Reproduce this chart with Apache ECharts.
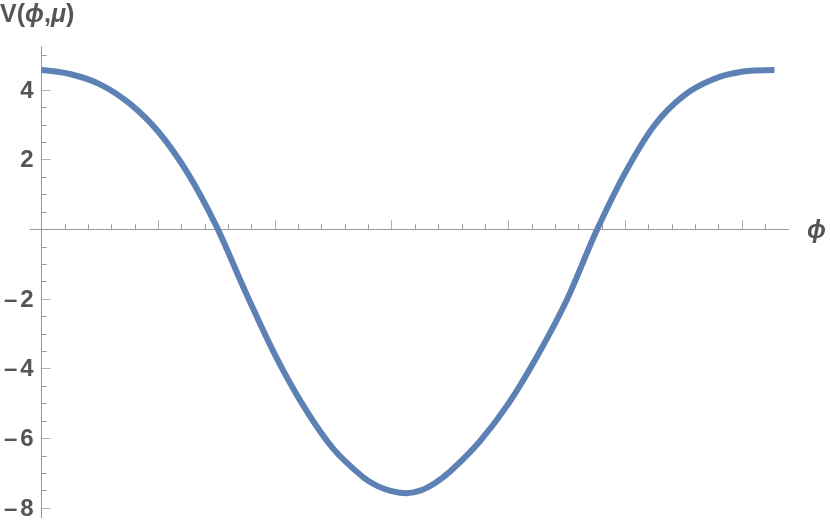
<!DOCTYPE html>
<html>
<head>
<meta charset="utf-8">
<script src="https://cdn.jsdelivr.net/npm/echarts@6/dist/echarts.min.js"></script>
<style>
html,body{margin:0;padding:0;background:#fff;}
#c{width:830px;height:528px;}
</style>
</head>
<body>
<div id="c"></div>
<script>
// Data
var phiValues = [0, 0.25, 0.5, 0.75, 1.0, 1.25, 1.5, 1.75, 2.0, 2.25, 2.5, 2.75, 2.875, 3.0, 3.125, 3.25, 3.375, 3.5, 3.75, 4.0, 4.25, 4.5, 4.75, 5.0, 5.25, 5.5, 5.75, 6.0, 6.28];
var vValues = [4.57, 4.45, 4.16, 3.62, 2.80, 1.62, 0.07, -1.82, -3.60, -5.10, -6.30, -7.10, -7.36, -7.51, -7.57, -7.49, -7.27, -6.95, -6.10, -5.00, -3.62, -2.03, -0.08, 1.62, 2.98, 3.83, 4.30, 4.52, 4.57];
var xMajorTicks = [1, 2, 3, 4, 5, 6];
var xMinorTicks = [0.2, 0.4, 0.6, 0.8, 1.2, 1.4, 1.6, 1.8, 2.2, 2.4, 2.6, 2.8, 3.2, 3.4, 3.6, 3.8, 4.2, 4.4, 4.6, 4.8, 5.2, 5.4, 5.6, 5.8, 6.2];
var yMajorTicks = [-8, -6, -4, -2, 2, 4];
var yMinorTicks = [-7.5, -7, -6.5, -5.5, -5, -4.5, -3.5, -3, -2.5, -1.5, -1, -0.5, 0.5, 1, 1.5, 2.5, 3, 3.5, 4.5, 5];
var xLabel = 'ϕ';
var yLabelParts = ['V(', 'ϕ', ',', 'μ', ')'];

var seriesData = phiValues.map(function (p, i) { return [p, vValues[i]]; });

var FONT = '"Liberation Sans", Arial, "DejaVu Sans", sans-serif';
var labelColor = '#555555';
var axisColor = '#999999';

var chart = echarts.init(document.getElementById('c'), null, {renderer: 'canvas'});

var option = {
  animation: false,
  backgroundColor: '#ffffff',
  grid: {left: 30, right: 41.5, top: 46.7, bottom: 10.1, containLabel: false, outerBoundsMode: 'none'},
  xAxis: [
    {
      type: 'value', min: -0.1, max: 6.4,
      axisLine: {show: true, onZero: true, onZeroAxisIndex: 0, lineStyle: {color: axisColor, width: 1}},
      axisTick: {show: true, inside: true, length: 9, customValues: xMajorTicks, lineStyle: {color: '#b0b0b0', width: 1}},
      axisLabel: {show: true, customValues: xMajorTicks, fontSize: 24, fontWeight: 'bold', color: labelColor, fontFamily: FONT, margin: 12},
      splitLine: {show: false}
    },
    {
      type: 'value', min: -0.1, max: 6.4, position: 'bottom',
      axisLine: {show: true, onZero: true, onZeroAxisIndex: 0, lineStyle: {opacity: 0}},
      axisTick: {show: true, inside: true, length: 5, customValues: xMinorTicks, lineStyle: {color: '#999999', width: 1}},
      axisLabel: {show: false},
      splitLine: {show: false}
    }
  ],
  yAxis: [
    {
      type: 'value', min: -8.28, max: 5.24,
      axisLine: {show: true, onZero: true, onZeroAxisIndex: 0, lineStyle: {color: axisColor, width: 1}},
      axisTick: {show: true, inside: true, length: 9, customValues: yMajorTicks, lineStyle: {color: '#b0b0b0', width: 1}},
      axisLabel: {show: false},
      splitLine: {show: false}
    },
    {
      type: 'value', min: -8.28, max: 5.24, position: 'left',
      axisLine: {show: true, onZero: true, onZeroAxisIndex: 0, lineStyle: {opacity: 0}},
      axisTick: {show: true, inside: true, length: 5, customValues: yMinorTicks, lineStyle: {color: '#999999', width: 1}},
      axisLabel: {show: false},
      splitLine: {show: false}
    }
  ],
  series: [
    {
      type: 'line', xAxisIndex: 0, yAxisIndex: 0,
      data: seriesData,
      showSymbol: false, symbol: 'none',
      smooth: 0.3,
      clip: false,
      lineStyle: {color: '#5E81B5', width: 6}
    }
  ]
};
chart.setOption(option);

// y-axis tick labels placed through the library's own scale
var graphics = [
  {
    type: 'text', left: 0, top: 3,
    style: {
      text: '{n|' + yLabelParts[0] + '}{i|' + yLabelParts[1] + '}{n|' + yLabelParts[2] + '}{i|' + yLabelParts[3] + '}{n|' + yLabelParts[4] + '}',
      rich: {
        n: {fontSize: 25, fontWeight: 'bold', fontFamily: FONT, fill: labelColor},
        i: {fontSize: 25, fontWeight: 'bold', fontStyle: 'italic', fontFamily: FONT, fill: labelColor}
      }
    }
  },
  {
    type: 'text', left: 807, top: 219,
    style: {text: xLabel, fontSize: 25, fontWeight: 'bold', fontStyle: 'italic', fontFamily: FONT, fill: labelColor}
  }
];
yMajorTicks.forEach(function (v) {
  var p = chart.convertToPixel({xAxisIndex: 0, yAxisIndex: 0}, [0, v]);
  var txt = v < 0 ? '{m|\u2013}{d|' + Math.abs(v) + '}' : '{d|' + v + '}';
  graphics.push({
    type: 'text', x: p[0] - 8, y: p[1] + 1,
    style: {
      text: txt, align: 'right', verticalAlign: 'middle',
      rich: {
        m: {fontSize: 24, fontWeight: 'bold', fontFamily: FONT, fill: labelColor, padding: [0, 3, 0, 0]},
        d: {fontSize: 24, fontWeight: 'bold', fontFamily: FONT, fill: labelColor}
      }
    }
  });
});
chart.setOption({graphic: graphics});
</script>
</body>
</html>
